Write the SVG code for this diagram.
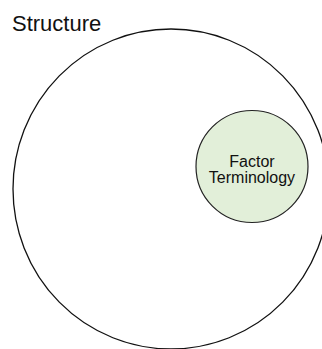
<svg xmlns="http://www.w3.org/2000/svg" width="322" height="349" viewBox="0 0 322 349">
  <style>
    .label { font-family: "Liberation Sans", Arial, sans-serif; fill: #111111; }
    .outline { fill: none; stroke: #111111; stroke-width: 1.3; }
    .inner { fill: #e2efd9; stroke: #222222; stroke-width: 1.2; }
  </style>
  <rect width="322" height="349" fill="#ffffff"/>
  <text class="label" x="12" y="31" font-size="22">Structure</text>
  <g id="structure">
    <ellipse class="outline" cx="171" cy="189" rx="158" ry="160"/>
  </g>
  <g id="factor-terminology">
    <circle class="inner" cx="252" cy="166.5" r="56"/>
    <text class="label" x="252" y="167" font-size="16" text-anchor="middle">Factor</text>
    <text class="label" x="252" y="183" font-size="16" text-anchor="middle">Terminology</text>
  </g>
  <g id="connectors"/>
</svg>
